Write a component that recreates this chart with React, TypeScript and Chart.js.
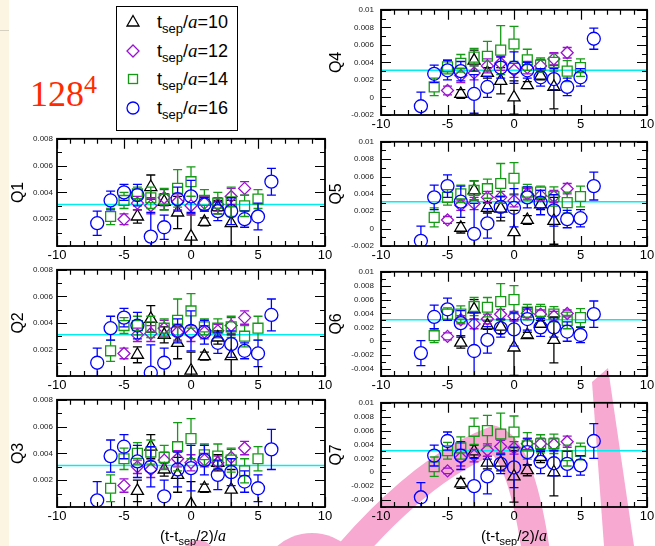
import { useEffect, useRef } from 'react';
import { Chart, registerables } from 'chart.js';

Chart.register(...registerables);

// ---- time slices (t - t_sep/2)/a for each source-sink separation ----
const xSep10 = [-4, -3, -2, -1, 0, 1, 2, 3];
const xSep12 = [-5, -4, -3, -2, -1, 0, 1, 2, 3, 4];
const xSep14 = [-6, -5, -4, -3, -2, -1, 0, 1, 2, 3, 4, 5];
const xSep16 = [-7, -6, -5, -4, -3, -2, -1, 0, 1, 2, 3, 4, 5, 6];

const sepValues = [10, 12, 14, 16];

// ---- Q1 ----
const q1Sep10 = [0.0022, 0.0044, 0.0033, 0.0025, 0.0007, 0.0018, 0.0029, 0.0017];
const q1Sep10Err = [0.0005, 0.0009, 0.0006, 0.0012, 0.0017, 0.0003, 0.0005, 0.0017];
const q1Sep12 = [0.0020, 0.0032, 0.0030, 0.0036, 0.0033, 0.0030, 0.0032, 0.0031, 0.0037, 0.0043];
const q1Sep12Err = [0.0004, 0.0005, 0.0006, 0.0006, 0.0006, 0.0007, 0.0005, 0.0005, 0.0006, 0.0005];
const q1Sep14 = [0.0022, 0.0034, 0.0039, 0.0036, 0.0035, 0.0043, 0.0048, 0.0034, 0.0032, 0.0033, 0.0030, 0.0035];
const q1Sep14Err = [0.0006, 0.0006, 0.0005, 0.0008, 0.0008, 0.0014, 0.0011, 0.0008, 0.0008, 0.0011, 0.0008, 0.0007];
const q1Sep16 = [0.0017, 0.0034, 0.0040, 0.0038, 0.0007, 0.0014, 0.0035, 0.0037, 0.0031, 0.0026, 0.0026, 0.0020, 0.0022, 0.0048];
const q1Sep16Err = [0.0009, 0.0007, 0.0006, 0.0008, 0.0018, 0.0009, 0.0009, 0.0012, 0.0005, 0.0007, 0.0010, 0.0006, 0.0010, 0.0010];

// ---- Q2 ----
const q2Sep10 = [0.0016, 0.0043, 0.0031, 0.0025, 0.0004, 0.0015, 0.0029, 0.0015];
const q2Sep10Err = [0.0006, 0.0010, 0.0006, 0.0012, 0.0014, 0.0003, 0.0005, 0.0016];
const q2Sep12 = [0.0017, 0.0031, 0.0032, 0.0036, 0.0033, 0.0032, 0.0033, 0.0034, 0.0038, 0.0044];
const q2Sep12Err = [0.0004, 0.0005, 0.0006, 0.0006, 0.0006, 0.0006, 0.0005, 0.0005, 0.0006, 0.0005];
const q2Sep14 = [0.0019, 0.0038, 0.0038, 0.0037, 0.0036, 0.0042, 0.0049, 0.0037, 0.0036, 0.0037, 0.0030, 0.0036];
const q2Sep14Err = [0.0008, 0.0006, 0.0007, 0.0008, 0.0007, 0.0016, 0.0013, 0.0006, 0.0007, 0.0008, 0.0008, 0.0009];
const q2Sep16 = [0.0010, 0.0036, 0.0044, 0.0038, 0.00025, 0.0010, 0.0034, 0.0034, 0.0033, 0.0025, 0.0024, 0.0019, 0.0017, 0.0046];
const q2Sep16Err = [0.0011, 0.0009, 0.0007, 0.0010, 0.0021, 0.0011, 0.0009, 0.0015, 0.0009, 0.0008, 0.0010, 0.0006, 0.0010, 0.0012];

// ---- Q3 ----
const q3Sep10 = [0.0012, 0.0045, 0.0028, 0.0024, 0.0002, 0.0014, 0.0033, 0.0013];
const q3Sep10Err = [0.0008, 0.0009, 0.0005, 0.0013, 0.0017, 0.0003, 0.0006, 0.0015];
const q3Sep12 = [0.0016, 0.0030, 0.0028, 0.0035, 0.0036, 0.0033, 0.0035, 0.0033, 0.0037, 0.0044];
const q3Sep12Err = [0.0005, 0.0005, 0.0006, 0.0006, 0.0006, 0.0006, 0.0005, 0.0005, 0.0006, 0.0005];
const q3Sep14 = [0.0014, 0.0036, 0.0040, 0.0041, 0.0037, 0.0045, 0.0051, 0.0039, 0.0038, 0.0035, 0.0027, 0.0036];
const q3Sep14Err = [0.0010, 0.0008, 0.0008, 0.0009, 0.0009, 0.0018, 0.0015, 0.0008, 0.0009, 0.0009, 0.0009, 0.0009];
const q3Sep16 = [0.0005, 0.0038, 0.0045, 0.0034, 0.0030, 0.0008, 0.0028, 0.0029, 0.0035, 0.0024, 0.0026, 0.0019, 0.0014, 0.0043];
const q3Sep16Err = [0.0014, 0.0012, 0.0009, 0.0012, 0.0015, 0.0012, 0.0013, 0.0017, 0.0011, 0.0011, 0.0010, 0.0008, 0.0010, 0.0015];

// ---- Q4 ----
const q4Sep10 = [0.0004, 0.0042, 0.0028, 0.0019, 0.0000, 0.0014, 0.0025, 0.0012];
const q4Sep10Err = [0.0005, 0.0012, 0.0006, 0.0015, 0.0019, 0.0004, 0.0005, 0.0025];
const q4Sep12 = [0.0008, 0.0025, 0.0028, 0.0036, 0.0039, 0.0031, 0.0034, 0.0036, 0.0044, 0.0051];
const q4Sep12Err = [0.0005, 0.0008, 0.0008, 0.0008, 0.0008, 0.0008, 0.0007, 0.0007, 0.0007, 0.0006];
const q4Sep14 = [0.0012, 0.0035, 0.0039, 0.0046, 0.0047, 0.0054, 0.0061, 0.0043, 0.0037, 0.0040, 0.0030, 0.0034];
const q4Sep14Err = [0.0010, 0.0008, 0.0010, 0.0010, 0.0017, 0.0028, 0.0020, 0.0012, 0.0008, 0.0010, 0.0012, 0.0010];
const q4Sep16 = [-0.0010, 0.0027, 0.0031, 0.0030, 0.0004, 0.0012, 0.0034, 0.0034, 0.0031, 0.0023, 0.0021, 0.0012, 0.0023, 0.0067];
const q4Sep16Err = [0.0016, 0.0010, 0.0011, 0.0011, 0.0022, 0.0012, 0.0012, 0.0018, 0.0009, 0.0010, 0.0012, 0.0010, 0.0010, 0.0012];

// ---- Q5 ----
const q5Sep10 = [0.0001, 0.0044, 0.0024, 0.0023, -0.0004, 0.0010, 0.0028, 0.0009];
const q5Sep10Err = [0.0006, 0.0011, 0.0006, 0.0014, 0.0025, 0.0005, 0.0006, 0.0027];
const q5Sep12 = [0.0010, 0.0027, 0.0029, 0.0036, 0.0036, 0.0032, 0.0040, 0.0038, 0.0037, 0.0046];
const q5Sep12Err = [0.0004, 0.0006, 0.0007, 0.0007, 0.0007, 0.0007, 0.0006, 0.0006, 0.0007, 0.0006];
const q5Sep14 = [0.0013, 0.0036, 0.0040, 0.0044, 0.0046, 0.0052, 0.0058, 0.0042, 0.0042, 0.0037, 0.0030, 0.0037];
const q5Sep14Err = [0.0011, 0.0009, 0.0010, 0.0011, 0.0011, 0.0023, 0.0018, 0.0009, 0.0007, 0.0011, 0.0012, 0.0012];
const q5Sep16 = [-0.0014, 0.0036, 0.0049, 0.0031, -0.0006, 0.0006, 0.0025, 0.0024, 0.0036, 0.0030, 0.0021, 0.0011, 0.0012, 0.0049];
const q5Sep16Err = [0.0017, 0.0014, 0.0013, 0.0018, 0.0035, 0.0017, 0.0012, 0.0022, 0.0012, 0.0014, 0.0018, 0.0010, 0.0010, 0.0016];

// ---- Q6 ----
const q6Sep10 = [-0.0002, 0.0046, 0.0023, 0.0021, -0.0009, 0.0009, 0.0025, 0.0002];
const q6Sep10Err = [0.0008, 0.0014, 0.0006, 0.0010, 0.0040, 0.0004, 0.0005, 0.0033];
const q6Sep12 = [0.0007, 0.0031, 0.0025, 0.0032, 0.0039, 0.0036, 0.0040, 0.0039, 0.0036, 0.0040];
const q6Sep12Err = [0.0005, 0.0006, 0.0007, 0.0007, 0.0007, 0.0007, 0.0006, 0.0006, 0.0007, 0.0005];
const q6Sep14 = [0.0008, 0.0039, 0.0039, 0.0050, 0.0049, 0.0057, 0.0060, 0.0042, 0.0043, 0.0039, 0.0030, 0.0034];
const q6Sep14Err = [0.0010, 0.0009, 0.0012, 0.0013, 0.0014, 0.0026, 0.0020, 0.0011, 0.0010, 0.0011, 0.0012, 0.0013];
const q6Sep16 = [-0.0017, 0.0035, 0.0046, 0.0026, -0.0014, 0.0002, 0.0019, 0.0017, 0.0032, 0.0020, 0.0020, 0.0014, 0.0009, 0.0039];
const q6Sep16Err = [0.0018, 0.0017, 0.0016, 0.0018, 0.0055, 0.0019, 0.0013, 0.0024, 0.0016, 0.0013, 0.0014, 0.0014, 0.0011, 0.0019];

// ---- Q7 ----
const q7Sep10 = [-0.0016, 0.0030, 0.0014, 0.0014, -0.0006, 0.0003, 0.0022, 0.0000];
const q7Sep10Err = [0.0007, 0.0009, 0.0009, 0.0012, 0.0037, 0.0008, 0.0008, 0.0034];
const q7Sep12 = [0.0002, 0.0021, 0.0024, 0.0032, 0.0037, 0.0035, 0.0041, 0.0041, 0.0040, 0.0044];
const q7Sep12Err = [0.0004, 0.0012, 0.0009, 0.0009, 0.0009, 0.0009, 0.0008, 0.0008, 0.0009, 0.0008];
const q7Sep14 = [0.0008, 0.0031, 0.0035, 0.0059, 0.0060, 0.0055, 0.0058, 0.0038, 0.0041, 0.0041, 0.0024, 0.0030];
const q7Sep14Err = [0.0014, 0.0012, 0.0016, 0.0019, 0.0022, 0.0030, 0.0023, 0.0019, 0.0013, 0.0014, 0.0015, 0.0012];
const q7Sep16 = [-0.0036, 0.0024, 0.0045, 0.0024, -0.0020, -0.0006, 0.0012, 0.0007, 0.0029, 0.0015, 0.0013, 0.0012, 0.0010, 0.0045];
const q7Sep16Err = [0.0021, 0.0015, 0.0013, 0.0020, 0.0040, 0.0025, 0.0014, 0.0029, 0.0019, 0.0017, 0.0018, 0.0018, 0.0014, 0.0025];

// common fitted value shown as a horizontal band centre
const fitValue = 0.0031;

// axis ticks
const xTickLabels = [-10, -5, 0, 5, 10];
const yTicksPositive = [0.002, 0.004, 0.006, 0.008];
const yTicksShallow = [-0.002, 0, 0.002, 0.004, 0.006, 0.008, 0.01];
const yTicksDeep = [-0.004, -0.002, 0, 0.002, 0.004, 0.006, 0.008, 0.01];

// ---- styling ----
const SANS = "'Liberation Sans', Arial, Helvetica, sans-serif";
const SERIF = "'Liberation Serif', 'Times New Roman', serif";
const colSep10 = '#000000';
const colSep12 = '#9a12d0';
const colSep14 = '#159a15';
const colSep16 = '#0000ff';
const colFit = '#00eeee';

type Shape = 'triangle' | 'rectRot' | 'rect' | 'circle';
interface SeriesStyle { color: string; shape: Shape; radius: number; gapUp: number; gapDown: number }

const styleSep10: SeriesStyle = { color: colSep10, shape: 'triangle', radius: 7, gapUp: 7, gapDown: 3.5 };
const styleSep12: SeriesStyle = { color: colSep12, shape: 'rectRot', radius: 6, gapUp: 6, gapDown: 6 };
const styleSep14: SeriesStyle = { color: colSep14, shape: 'rect', radius: 7, gapUp: 5, gapDown: 5 };
const styleSep16: SeriesStyle = { color: colSep16, shape: 'circle', radius: 6.5, gapUp: 6.5, gapDown: 6.5 };

interface PanelDef {
  name: string;
  left: number; top: number; w: number; h: number;
  yMin: number; yMax: number; yTicks: number[];
  titleGap: number; labelPad: number;
  s10: [number[], number[]]; s12: [number[], number[]]; s14: [number[], number[]]; s16: [number[], number[]];
}

const LEFT_X = 57, LEFT_W = 268;
const RIGHT_X = 381, RIGHT_W = 266;

const panels: PanelDef[] = [
  { name: 'Q4', left: RIGHT_X, top: 6, w: RIGHT_W, h: 109, yMin: -0.002, yMax: 0.01, yTicks: yTicksShallow, titleGap: 44, labelPad: 7,
    s10: [q4Sep10, q4Sep10Err], s12: [q4Sep12, q4Sep12Err], s14: [q4Sep14, q4Sep14Err], s16: [q4Sep16, q4Sep16Err] },
  { name: 'Q1', left: LEFT_X, top: 138, w: LEFT_W, h: 108, yMin: 0, yMax: 0.008, yTicks: yTicksPositive, titleGap: 38, labelPad: 4,
    s10: [q1Sep10, q1Sep10Err], s12: [q1Sep12, q1Sep12Err], s14: [q1Sep14, q1Sep14Err], s16: [q1Sep16, q1Sep16Err] },
  { name: 'Q5', left: RIGHT_X, top: 138, w: RIGHT_W, h: 108, yMin: -0.002, yMax: 0.01, yTicks: yTicksShallow, titleGap: 44, labelPad: 7,
    s10: [q5Sep10, q5Sep10Err], s12: [q5Sep12, q5Sep12Err], s14: [q5Sep14, q5Sep14Err], s16: [q5Sep16, q5Sep16Err] },
  { name: 'Q2', left: LEFT_X, top: 269, w: LEFT_W, h: 107, yMin: 0, yMax: 0.008, yTicks: yTicksPositive, titleGap: 38, labelPad: 4,
    s10: [q2Sep10, q2Sep10Err], s12: [q2Sep12, q2Sep12Err], s14: [q2Sep14, q2Sep14Err], s16: [q2Sep16, q2Sep16Err] },
  { name: 'Q6', left: RIGHT_X, top: 268, w: RIGHT_W, h: 108, yMin: -0.005, yMax: 0.01, yTicks: yTicksDeep, titleGap: 44, labelPad: 7,
    s10: [q6Sep10, q6Sep10Err], s12: [q6Sep12, q6Sep12Err], s14: [q6Sep14, q6Sep14Err], s16: [q6Sep16, q6Sep16Err] },
  { name: 'Q3', left: LEFT_X, top: 399, w: LEFT_W, h: 108, yMin: 0, yMax: 0.008, yTicks: yTicksPositive, titleGap: 38, labelPad: 4,
    s10: [q3Sep10, q3Sep10Err], s12: [q3Sep12, q3Sep12Err], s14: [q3Sep14, q3Sep14Err], s16: [q3Sep16, q3Sep16Err] },
  { name: 'Q7', left: RIGHT_X, top: 399, w: RIGHT_W, h: 108, yMin: -0.005, yMax: 0.01, yTicks: yTicksDeep, titleGap: 44, labelPad: 7,
    s10: [q7Sep10, q7Sep10Err], s12: [q7Sep12, q7Sep12Err], s14: [q7Sep14, q7Sep14Err], s16: [q7Sep16, q7Sep16Err] },
];

// canvas margins around each plot frame
const PAD_L = 54, PAD_T = 8, PAD_R = 14, PAD_B = 24;

const fmtY = (v: number) => {
  if (Math.abs(v) < 1e-12) return '0';
  return String(parseFloat(v.toFixed(4)));
};

// error bars (drawn just before each marker set), frame, inward ticks and panel title
const panelDecor = {
  id: 'panelDecor',
  beforeDatasetDraw(chart: any, args: any) {
    const ds = chart.data.datasets[args.index];
    if (!ds.errors) return;
    const { ctx, chartArea: a } = chart;
    const ys = chart.scales.y;
    const cap = 4.5;
    ctx.save();
    ctx.beginPath();
    ctx.rect(a.left, a.top, a.right - a.left, a.bottom - a.top);
    ctx.clip();
    ctx.strokeStyle = ds.borderColor;
    ctx.lineWidth = 1.3;
    args.meta.data.forEach((pt: any, i: number) => {
      const v = ds.data[i].y;
      const e = ds.errors[i];
      const x = pt.x, yc = pt.y;
      const yTop = ys.getPixelForValue(v + e);
      const yBot = ys.getPixelForValue(v - e);
      ctx.beginPath();
      if (yc - yTop > ds.gapUp) { ctx.moveTo(x, yc - ds.gapUp); ctx.lineTo(x, yTop); }
      if (yBot - yc > ds.gapDown) { ctx.moveTo(x, yc + ds.gapDown); ctx.lineTo(x, yBot); }
      ctx.moveTo(x - cap, yTop); ctx.lineTo(x + cap, yTop);
      ctx.moveTo(x - cap, yBot); ctx.lineTo(x + cap, yBot);
      ctx.stroke();
    });
    ctx.restore();
  },
  afterDraw(chart: any) {
    const { ctx, chartArea: a } = chart;
    const xs = chart.scales.x, ys = chart.scales.y;
    const o = chart.options.plugins.panelDecor;
    ctx.save();
    ctx.strokeStyle = '#000';
    ctx.lineWidth = 1.2;
    ctx.beginPath();
    for (let v = -10; v <= 10; v++) {
      const px = Math.round(xs.getPixelForValue(v)) + 0.5;
      const len = v % 5 === 0 ? 10 : 5;
      ctx.moveTo(px, a.bottom); ctx.lineTo(px, a.bottom - len);
      ctx.moveTo(px, a.top); ctx.lineTo(px, a.top + len);
    }
    const nMinor = Math.round((o.yMax - o.yMin) / 0.001);
    for (let k = 0; k <= nMinor; k++) {
      const v = o.yMin + k * 0.001;
      const major = Math.abs(Math.round(v / 0.001)) % 2 === 0;
      const py = Math.round(ys.getPixelForValue(v)) + 0.5;
      const len = major ? 10 : 5;
      ctx.moveTo(a.left, py); ctx.lineTo(a.left + len, py);
      ctx.moveTo(a.right, py); ctx.lineTo(a.right - len, py);
    }
    ctx.stroke();
    ctx.lineWidth = 1.8;
    ctx.strokeRect(a.left, a.top, a.right - a.left, a.bottom - a.top);
    ctx.translate(a.left - o.titleGap, (a.top + a.bottom) / 2);
    ctx.rotate(-Math.PI / 2);
    ctx.fillStyle = '#000';
    ctx.font = `16px ${SANS}`;
    ctx.textAlign = 'center';
    ctx.textBaseline = 'middle';
    ctx.fillText(o.name, 0, 0);
    ctx.restore();
  },
};

function markerSet(xs: number[], vals: number[], errs: number[], st: SeriesStyle) {
  return {
    data: xs.map((x, i) => ({ x, y: vals[i] })),
    errors: errs,
    gapUp: st.gapUp,
    gapDown: st.gapDown,
    borderColor: st.color,
    backgroundColor: 'rgba(0,0,0,0)',
    pointStyle: st.shape,
    pointRadius: st.radius,
    pointHoverRadius: st.radius,
    pointBorderWidth: 1.3,
    showLine: false,
  };
}

function Panel({ p }: { p: PanelDef }) {
  const ref = useRef<HTMLCanvasElement>(null);
  const w = PAD_L + p.w + PAD_R;
  const h = PAD_T + p.h + PAD_B;
  useEffect(() => {
    if (!ref.current) return;
    const chart = new Chart(ref.current, {
      type: 'scatter',
      data: {
        datasets: [
          markerSet(xSep16, p.s16[0], p.s16[1], styleSep16),
          markerSet(xSep14, p.s14[0], p.s14[1], styleSep14),
          markerSet(xSep12, p.s12[0], p.s12[1], styleSep12),
          markerSet(xSep10, p.s10[0], p.s10[1], styleSep10),
          {
            data: [{ x: -10, y: fitValue }, { x: 10, y: fitValue }],
            borderColor: colFit,
            borderWidth: 1.5,
            pointRadius: 0,
            showLine: true,
          },
        ] as any,
      },
      options: {
        responsive: false,
        animation: false,
        devicePixelRatio: 1,
        events: [],
        layout: { padding: { top: PAD_T, right: PAD_R, left: 0, bottom: 0 } },
        plugins: {
          legend: { display: false },
          tooltip: { enabled: false },
          panelDecor: { name: p.name, yMin: p.yMin, yMax: p.yMax, titleGap: p.titleGap },
        } as any,
        scales: {
          x: {
            type: 'linear',
            min: -10,
            max: 10,
            grid: { display: false, drawTicks: false },
            border: { display: false },
            afterBuildTicks: (s: any) => { s.ticks = xTickLabels.map((v) => ({ value: v })); },
            afterFit: (s: any) => { s.height = PAD_B; },
            ticks: {
              padding: 2,
              color: '#000',
              maxRotation: 0,
              autoSkip: false,
              font: { family: SANS, size: 13 },
              callback: (v: any) => String(v),
            },
          },
          y: {
            type: 'linear',
            min: p.yMin,
            max: p.yMax,
            grid: { display: false, drawTicks: false },
            border: { display: false },
            afterBuildTicks: (s: any) => { s.ticks = p.yTicks.map((v) => ({ value: v })); },
            afterFit: (s: any) => { s.width = PAD_L; },
            ticks: {
              padding: p.labelPad,
              color: '#222',
              autoSkip: false,
              font: { family: SANS, size: 8 },
              callback: (v: any) => fmtY(Number(v)),
            },
          },
        },
      },
      plugins: [panelDecor],
    });
    return () => chart.destroy();
  }, [p]);
  return (
    <canvas
      ref={ref}
      width={w}
      height={h}
      style={{ position: 'absolute', left: p.left - PAD_L, top: p.top - PAD_T, width: w, height: h }}
    />
  );
}

function LegendSymbol({ shape, color, cx, cy }: { shape: Shape; color: string; cx: number; cy: number }) {
  const common = { fill: 'none', stroke: color, strokeWidth: 1.3 };
  let el;
  if (shape === 'triangle') el = <polygon points="8,1.5 14,12 2,12" {...common} />;
  else if (shape === 'rectRot') el = <polygon points="8,2 14,8 8,14 2,8" {...common} />;
  else if (shape === 'rect') el = <rect x={3.5} y={3.5} width={9} height={9} {...common} />;
  else el = <circle cx={8} cy={8} r={6} {...common} />;
  return (
    <svg width={16} height={16} style={{ position: 'absolute', left: cx - 8, top: cy - 8 }}>
      {el}
    </svg>
  );
}

const legendStyles = [styleSep10, styleSep12, styleSep14, styleSep16];

function Legend() {
  return (
    <>
      <div style={{ position: 'absolute', left: 116, top: 6, width: 120, height: 123, border: '1.5px solid #000', background: '#fff' }} />
      {sepValues.map((v, i) => {
        const base = 28 + i * 28.5;
        return (
          <div key={v}>
            <LegendSymbol shape={legendStyles[i].shape} color={legendStyles[i].color} cx={133} cy={base - 6} />
            <div style={{ position: 'absolute', left: 157, top: base - 15, fontFamily: SANS, fontSize: 18, lineHeight: '18px', whiteSpace: 'nowrap', color: '#000' }}>
              t<span style={{ fontSize: 13, position: 'relative', top: 5 }}>sep</span>/
              <span style={{ fontFamily: SERIF, fontStyle: 'italic', fontSize: 19 }}>a</span>={v}
            </div>
          </div>
        );
      })}
    </>
  );
}

function XTitle({ cx }: { cx: number }) {
  return (
    <div style={{ position: 'absolute', left: cx - 70, width: 140, top: 528, textAlign: 'center', fontFamily: SANS, fontSize: 15, lineHeight: '15px', whiteSpace: 'nowrap', color: '#000' }}>
      (t-t<span style={{ fontSize: 11, position: 'relative', top: 4 }}>sep</span>/2)/
      <span style={{ fontFamily: SERIF, fontStyle: 'italic', fontSize: 16 }}>a</span>
    </div>
  );
}

function Watermark() {
  const pink = '#f7a9d2';
  return (
    <svg width={655} height={546} style={{ position: 'absolute', left: 0, top: 0 }}>
      <path d="M 338 566 Q 420 468 494 440 Q 522 448 538 566" fill="none" stroke={pink} strokeWidth={28} strokeLinecap="round" />
      <polygon points="592,382 608,368 634,546 604,546" fill={pink} />
      <circle cx={312} cy={586} r={53} fill={pink} />
      <circle cx={198} cy={557} r={17} fill={pink} />
    </svg>
  );
}

export default function App() {
  return (
    <div style={{ position: 'absolute', left: 0, top: 0, width: 655, height: 546, background: '#fff', overflow: 'hidden' }}>
      <div style={{ position: 'absolute', left: 0, top: 0, width: 9, height: 546, background: '#fbf5e2' }} />
      <div style={{ position: 'absolute', left: 0, top: 30, width: 9, height: 1, background: '#d6d0c0' }} />
      <Watermark />
      <div style={{ position: 'absolute', left: 30, top: 76, fontFamily: SERIF, fontSize: 36, lineHeight: '36px', color: '#ff2a00', whiteSpace: 'nowrap' }}>
        128<span style={{ fontSize: 26, position: 'relative', top: -13 }}>4</span>
      </div>
      <Legend />
      {panels.map((p) => (
        <Panel key={p.name} p={p} />
      ))}
      <XTitle cx={(LEFT_X + LEFT_X + LEFT_W) / 2 + 2} />
      <XTitle cx={(RIGHT_X + RIGHT_X + RIGHT_W) / 2} />
    </div>
  );
}
